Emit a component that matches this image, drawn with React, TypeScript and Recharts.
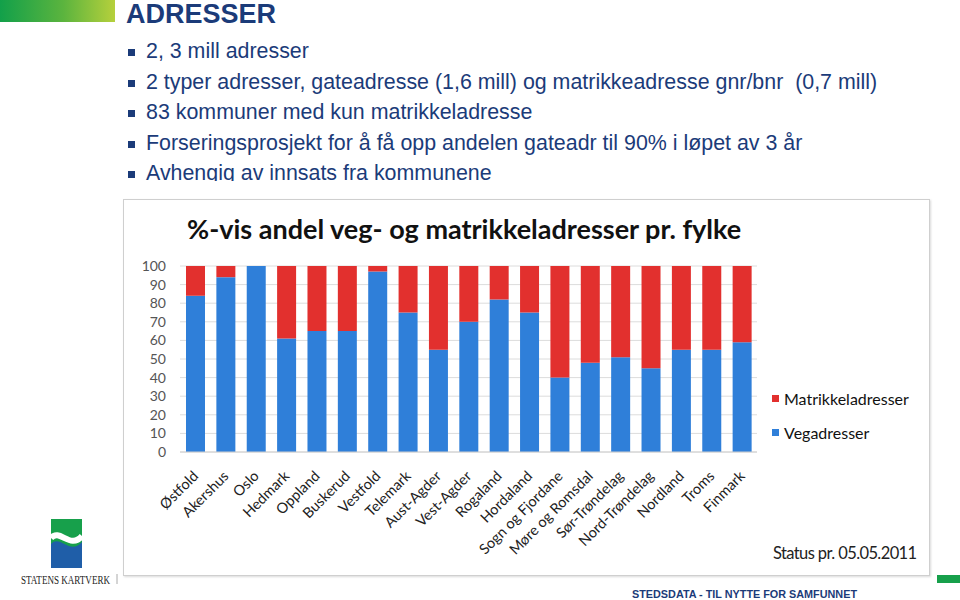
import React from 'react';
import { BarChart, Bar, XAxis, YAxis, CartesianGrid, Legend } from 'recharts';

const fylker = [
  'Østfold', 'Akershus', 'Oslo', 'Hedmark', 'Oppland', 'Buskerud', 'Vestfold',
  'Telemark', 'Aust-Agder', 'Vest-Agder', 'Rogaland', 'Hordaland',
  'Sogn og Fjordane', 'Møre og Romsdal', 'Sør-Trøndelag', 'Nord-Trøndelag',
  'Nordland', 'Troms', 'Finmark',
];
const vegadresser = [84, 94, 100, 61, 65, 65, 97, 75, 55, 70, 82, 75, 40, 48, 51, 45, 55, 55, 59];
const matrikkeladresser = [16, 6, 0, 39, 35, 35, 3, 25, 45, 30, 18, 25, 60, 52, 49, 55, 45, 45, 41];
const yTicks = [0, 10, 20, 30, 40, 50, 60, 70, 80, 90, 100];
const legendOrder = ['Matrikkeladresser', 'Vegadresser'];

const slideTitle = 'ADRESSER';
const bullets = [
  '2, 3 mill adresser',
  '2 typer adresser, gateadresse (1,6 mill) og matrikkeadresse gnr/bnr  (0,7 mill)',
  '83 kommuner med kun matrikkeladresse',
  'Forseringsprosjekt for å få opp andelen gateadr til 90% i løpet av 3 år',
  'Avhengig av innsats fra kommunene',
];
const chartTitle = '%-vis andel veg- og matrikkeladresser pr. fylke';
const statusText = 'Status pr. 05.05.2011';
const footerText = 'STEDSDATA - TIL NYTTE FOR SAMFUNNET';
const logoText = 'STATENS KARTVERK';

const data = fylker.map((f, i) => ({
  fylke: f,
  Vegadresser: vegadresser[i],
  Matrikkeladresser: matrikkeladresser[i],
}));

const BLUE = '#2f7fd9';
const RED = '#e2302e';
const NAVY = '#1b3b79';
const FONT = 'Lato, "Open Sans", sans-serif';

const XTick = (props: any) => {
  const { x, y, payload } = props;
  return (
    <g transform={`translate(${x + 4},${y + 17})`}>
      <text x={0} y={0} textAnchor="end" transform="rotate(-45)" fontSize={14.5}
        fill="#222" fontFamily={FONT}>
        {payload.value}
      </text>
    </g>
  );
};

const LegendContent = (props: any) => {
  const items = [...(props.payload || [])].sort(
    (a: any, b: any) => legendOrder.indexOf(a.value) - legendOrder.indexOf(b.value)
  );
  return (
    <div style={{ fontFamily: FONT, fontSize: 16, color: '#111' }}>
      {items.map((it: any) => (
        <div key={it.value} style={{ display: 'flex', alignItems: 'center', height: 34 }}>
          <span style={{ display: 'inline-block', width: 7, height: 7, background: it.color, marginRight: 5 }} />
          <span>{it.value}</span>
        </div>
      ))}
    </div>
  );
};

export default function App() {
  return (
    <div style={{ position: 'absolute', left: 0, top: 0, width: 960, height: 600, background: '#fff', overflow: 'hidden' }}>
      {/* green gradient header bar */}
      <div style={{ position: 'absolute', left: 0, top: 0, width: 115, height: 22,
        background: 'linear-gradient(to right, #12a04a, #5bb43e 55%, #b6d03c)' }} />
      <div style={{ position: 'absolute', left: 126, top: 1, fontFamily: 'Arial, "Liberation Sans", sans-serif',
        fontWeight: 'bold', fontSize: 27, lineHeight: '27px', color: NAVY }}>{slideTitle}</div>

      {/* bullets */}
      <div style={{ position: 'absolute', left: 126, top: 36, width: 820, height: 145, overflow: 'hidden',
        fontFamily: 'Arial, "Liberation Sans", sans-serif', fontSize: 21.4, lineHeight: '30.5px', color: NAVY }}>
        {bullets.map((b) => (
          <div key={b} style={{ position: 'relative', paddingLeft: 20, whiteSpace: 'pre' }}>
            <span style={{ position: 'absolute', left: 2, top: 13, width: 7, height: 7, background: NAVY }} />
            {b}
          </div>
        ))}
      </div>

      {/* chart box */}
      <div style={{ position: 'absolute', left: 123, top: 199, width: 807, height: 377,
        border: '1px solid #cfcfcf', boxShadow: '1px 1px 2px rgba(0,0,0,0.15)', boxSizing: 'border-box', background: '#fff' }}>
        <div style={{ position: 'absolute', left: 63, top: 12, fontFamily: FONT, fontWeight: 'bold',
          fontSize: 27, color: '#111', whiteSpace: 'nowrap' }}>{chartTitle}</div>
        <BarChart width={805} height={375} data={data}
          margin={{ top: 66, right: 172, bottom: 0, left: 0 }} barSize={19}>
          <CartesianGrid vertical={false} stroke="#dcdcdc" />
          <XAxis dataKey="fylke" interval={0} tick={<XTick />} tickLine={false}
            axisLine={{ stroke: '#d0d0d0' }} height={123} />
          <YAxis domain={[0, 100]} ticks={yTicks} interval={0} width={56} tickLine={false} axisLine={false}
            tickSize={6} tickMargin={8}
            tick={{ fontSize: 14, fill: '#555', fontFamily: FONT }} />
          <Legend layout="horizontal" verticalAlign="middle" align="center"
            content={<LegendContent />}
            wrapperStyle={{ position: 'absolute', left: 648, top: 181, width: 150, height: 70 }} />
          <Bar dataKey="Vegadresser" stackId="a" fill={BLUE} isAnimationActive={false} />
          <Bar dataKey="Matrikkeladresser" stackId="a" fill={RED} isAnimationActive={false} />
        </BarChart>
        <div style={{ position: 'absolute', left: 649, top: 343, fontFamily: FONT, fontSize: 16.5,
          color: '#222', whiteSpace: 'nowrap', letterSpacing: -0.6 }}>{statusText}</div>
      </div>

      {/* logo */}
      <svg style={{ position: 'absolute', left: 0, top: 500 }} width={140} height={100}>
        <rect x={51} y={19} width={31} height={30} fill="#17a04b" />
        <path d="M51,44 C60,34 70,56 82,42 L82,68 L51,68 Z" fill="#1f5ea8" />
        <path d="M51,38 C60,28 70,50 82,36" stroke="#fff" strokeWidth={6} fill="none" />
        <text x={21} y={84} fontFamily='"Liberation Serif", "Times New Roman", serif' fontSize={12}
          fill="#222" textLength={89} lengthAdjust="spacingAndGlyphs">{logoText}</text>
        <line x1={117} y1={74} x2={117} y2={84} stroke="#aaa" strokeWidth={1} />
      </svg>

      {/* footer */}
      <svg style={{ position: 'absolute', left: 0, top: 570 }} width={960} height={30}>
        <rect x={937} y={5} width={23} height={8} fill="#17a04b" />
        <text x={632} y={28} fontFamily='Arial, "Liberation Sans", sans-serif' fontWeight="bold" fontSize={11.5}
          fill={NAVY} textLength={225} lengthAdjust="spacingAndGlyphs">{footerText}</text>
      </svg>
    </div>
  );
}
